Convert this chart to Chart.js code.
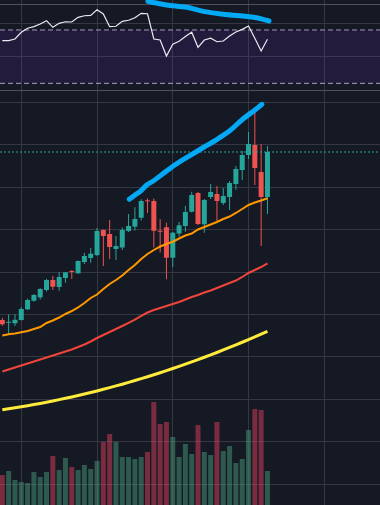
<!DOCTYPE html>
<html>
<head>
<meta charset="utf-8">
<script src="https://cdn.jsdelivr.net/npm/chart.js@4.4.1/dist/chart.umd.min.js"></script>
<style>
  html, body { margin: 0; padding: 0; background: #151924; width: 380px; height: 505px; overflow: hidden; }
  #rsiBox { position: absolute; left: 0; top: 0; width: 380px; height: 90px; }
  #mainBox { position: absolute; left: 0; top: 90px; width: 380px; height: 415px; }
</style>
</head>
<body>
<div id="rsiBox"><canvas id="rsi" width="380" height="90"></canvas></div>
<div id="mainBox"><canvas id="main" width="380" height="415"></canvas></div>
<script>
// ---------------- DATA ----------------
const open  = [48.70, 48.04, 47.93, 48.70, 51.23, 53.25, 54.05, 55.77, 58.13, 56.48, 58.60, 60.18, 59.71, 62.37, 63.31, 64.02, 69.91, 68.97, 65.43, 65.79, 69.67, 70.69, 72.81, 76.79, 76.75, 69.67, 70.55, 63.38, 69.08, 70.85, 74.22, 78.63, 71.25, 77.69, 78.39, 76.27, 77.69, 80.75, 84.05, 87.58, 89.94, 83.58, 77.69];
const high  = [49.25, 50.00, 50.05, 51.77, 53.77, 54.83, 56.17, 58.44, 59.07, 59.94, 60.01, 60.49, 62.72, 64.56, 65.67, 70.38, 70.03, 72.27, 68.50, 70.50, 73.68, 75.26, 77.15, 77.33, 77.33, 72.43, 71.63, 69.44, 71.79, 75.56, 78.93, 78.87, 77.22, 80.75, 80.28, 79.81, 81.46, 84.99, 88.53, 93.00, 97.72, 90.17, 89.70];
const low   = [47.36, 45.41, 47.29, 48.59, 51.06, 53.02, 53.54, 55.42, 55.77, 55.61, 57.49, 58.36, 59.54, 61.90, 62.21, 63.78, 61.43, 63.08, 62.84, 65.20, 69.44, 69.79, 72.15, 73.92, 65.79, 64.61, 58.29, 61.19, 68.33, 69.51, 74.03, 71.09, 69.27, 77.22, 72.03, 75.80, 74.62, 79.41, 81.69, 86.64, 80.51, 66.14, 73.68];
const close = [47.69, 48.23, 48.75, 51.30, 53.42, 54.60, 56.01, 58.13, 56.55, 58.84, 59.94, 60.01, 62.61, 63.78, 64.33, 69.67, 68.50, 65.91, 66.14, 69.91, 70.85, 72.50, 76.75, 76.67, 69.74, 69.51, 63.38, 69.27, 71.02, 74.15, 78.16, 71.32, 76.98, 78.87, 76.75, 77.92, 80.99, 84.28, 87.58, 90.17, 84.52, 77.69, 88.29];
const volume = [30, 34, 25, 23, 22, 33, 28, 33, 49, 35, 47, 38, 35, 40, 36, 44, 63, 71, 63, 48, 48, 46, 48, 53, 103, 81, 83, 68, 48, 61, 51, 80, 53, 50, 83, 54, 59, 42, 46, 75, 96, 95, 34];

const maFast = [45.05, 45.33, 45.52, 45.80, 46.11, 46.58, 47.05, 48.00, 48.59, 49.29, 50.12, 50.82, 51.65, 52.71, 53.89, 54.71, 56.01, 57.19, 58.13, 59.19, 60.49, 61.66, 63.08, 64.26, 65.20, 66.02, 66.61, 67.15, 67.91, 68.61, 69.09, 70.03, 70.62, 71.21, 71.80, 72.50, 73.09, 73.92, 74.86, 75.80, 76.39, 76.86, 77.38];
const maMid  = [36.57, 37.04, 37.51, 37.98, 38.45, 38.92, 39.40, 39.87, 40.34, 40.81, 41.28, 41.75, 42.34, 42.93, 43.64, 44.46, 45.17, 45.88, 46.58, 47.29, 48.00, 48.82, 49.65, 50.47, 51.06, 51.53, 52.00, 52.47, 52.95, 53.53, 54.12, 54.59, 55.18, 55.65, 56.24, 56.83, 57.42, 58.01, 58.84, 59.78, 60.49, 61.19, 62.02];
const maSlow = [27.57, 27.79, 28.02, 28.26, 28.51, 28.78, 29.05, 29.33, 29.63, 29.94, 30.25, 30.58, 30.91, 31.26, 31.62, 31.99, 32.37, 32.77, 33.17, 33.58, 34.00, 34.44, 34.88, 35.34, 35.80, 36.28, 36.77, 37.27, 37.77, 38.30, 38.83, 39.36, 39.92, 40.48, 41.05, 41.64, 42.24, 42.84, 43.46, 44.09, 44.72, 45.38, 46.03];

const rsi = [62.0, 62.1, 63.25, 68.3, 71.3, 72.5, 74.5, 77.0, 72.0, 75.0, 76.2, 76.0, 79.5, 80.7, 81.0, 85.2, 82.0, 72.5, 72.8, 76.5, 77.3, 79.2, 82.5, 82.2, 63.25, 62.5, 50.5, 59.3, 61.5, 65.1, 68.3, 57.0, 62.5, 63.8, 61.2, 61.75, 65.5, 68.5, 70.5, 73.0, 63.8, 54.25, 63.0];
const rsiUpper = 70;
const rsiLower = 30;

// hand-drawn brush strokes (bar index, value)
const brushMainX = [20.11, 21.02, 21.81, 22.87, 23.91, 25.50, 27.08, 28.14, 29.73, 31.84, 33.96, 36.07, 38.12, 40.02, 41.13];
const brushMainY = [77.14, 78.16, 78.93, 80.51, 81.46, 83.22, 84.99, 86.05, 87.46, 89.35, 91.23, 93.36, 96.07, 98.19, 99.53];
const brushRsiX = [23.07, 24.18, 26.04, 29.21, 31.84, 35.00, 37.65, 39.76, 41.34, 42.24];
const brushRsiY = [91.6, 90.4, 88.75, 87.0, 84.0, 81.75, 80.7, 79.5, 78.0, 76.75];

// grid / tick positions
const timeGrid = [3, 15, 27, 39, 51];
const priceGrid = [10, 20, 30, 40, 50, 60, 70, 80, 90, 100];
const rsiGrid = [50, 75];

// ---------------- STYLE / LAYOUT ----------------
const X_MIN = -0.37, X_MAX = 59.83;
const P_MIN = 5.11, P_MAX = 102.9;
const VOL_MAX = 415;
const RSI_MIN = 25, RSI_MAX = 92.5;
const GRID = '#353843';
const SEP = '#4e515b';
const UP = '#26a69a', DOWN = '#ef5350';
const UP_VOL = 'rgba(70,154,119,0.5)', DOWN_VOL = 'rgba(222,62,91,0.5)';

const idx = close.map((_, i) => i);
const isUp = idx.map(i => close[i] >= open[i]);
const last = close[close.length - 1];

function sepPlugin(ys) {
  return {
    id: 'sep',
    beforeDatasetsDraw(chart) {
      const ctx = chart.ctx;
      ctx.save();
      ctx.strokeStyle = SEP;
      ctx.lineWidth = 1;
      ys.forEach(y => { ctx.beginPath(); ctx.moveTo(0, y + 0.5); ctx.lineTo(chart.width, y + 0.5); ctx.stroke(); });
      ctx.restore();
    }
  };
}

const hiddenAxis = (min, max, grid) => ({
  type: 'linear', min, max, offset: false,
  grid: { color: GRID, lineWidth: 1, drawTicks: false, offset: false },
  border: { display: false },
  ticks: { display: false },
  afterBuildTicks: s => { s.ticks = grid.map(v => ({ value: v })); }
});

const commonOpts = {
  responsive: false,
  animation: false,
  devicePixelRatio: 1,
  layout: { padding: 0, autoPadding: false },
  plugins: { legend: { display: false }, tooltip: { enabled: false } },
  events: []
};

// ---------------- MAIN PANE ----------------
new Chart(document.getElementById('main'), {
  type: 'bar',
  data: {
    datasets: [
      { type: 'bar', label: 'Volume', yAxisID: 'yVol', order: 10, grouped: false,
        data: idx.map(i => ({ x: i, y: volume[i] })),
        backgroundColor: idx.map(i => isUp[i] ? UP_VOL : DOWN_VOL),
        barThickness: 5, borderWidth: 0, inflateAmount: 0 },
      { type: 'line', label: 'MA slow', yAxisID: 'y', order: 7,
        data: idx.map(i => ({ x: i, y: maSlow[i] })),
        borderColor: '#ffeb3b', borderWidth: 3, pointRadius: 0, tension: 0 },
      { type: 'line', label: 'MA mid', yAxisID: 'y', order: 6,
        data: idx.map(i => ({ x: i, y: maMid[i] })),
        borderColor: '#f0453a', borderWidth: 2, pointRadius: 0, tension: 0 },
      { type: 'bar', label: 'Wick', yAxisID: 'y', order: 5, grouped: false,
        data: idx.map(i => ({ x: i, y: [low[i], high[i]] })),
        backgroundColor: idx.map(i => isUp[i] ? UP : DOWN),
        barThickness: 1, borderWidth: 0, inflateAmount: 0 },
      { type: 'bar', label: 'Body', yAxisID: 'y', order: 4, grouped: false,
        data: idx.map(i => ({ x: i, y: [open[i], close[i]] })),
        backgroundColor: idx.map(i => isUp[i] ? UP : DOWN),
        barThickness: 5, minBarLength: 1, borderWidth: 0, inflateAmount: 0 },
      { type: 'line', label: 'MA fast', yAxisID: 'y', order: 3,
        data: idx.map(i => ({ x: i, y: maFast[i] })),
        borderColor: '#ff9800', borderWidth: 2, pointRadius: 0, tension: 0 },
      { type: 'line', label: 'Last price', yAxisID: 'y', order: 2,
        data: [{ x: X_MIN, y: last }, { x: X_MAX, y: last }],
        borderColor: UP, borderWidth: 1, borderDash: [2, 2], pointRadius: 0 },
      { type: 'line', label: 'Brush', yAxisID: 'y', order: 1,
        data: brushMainX.map((x, i) => ({ x, y: brushMainY[i] })),
        borderColor: '#03a9f4', borderWidth: 5, borderCapStyle: 'round', borderJoinStyle: 'round',
        pointRadius: 0, tension: 0.3 }
    ]
  },
  options: Object.assign({}, commonOpts, {
    scales: {
      x: hiddenAxis(X_MIN, X_MAX, timeGrid),
      y: hiddenAxis(P_MIN, P_MAX, priceGrid),
      yVol: { type: 'linear', min: 0, max: VOL_MAX, display: false }
    }
  }),
  plugins: [sepPlugin([0])]
});

// ---------------- RSI PANE ----------------
new Chart(document.getElementById('rsi'), {
  type: 'line',
  data: {
    datasets: [
      { label: 'Upper', order: 5, data: [{ x: X_MIN, y: rsiUpper }, { x: X_MAX, y: rsiUpper }],
        borderColor: '#a9a6bd', borderWidth: 1, borderDash: [5, 3], pointRadius: 0, fill: false },
      { label: 'Lower', order: 4, data: [{ x: X_MIN, y: rsiLower }, { x: X_MAX, y: rsiLower }],
        borderColor: '#a9a6bd', borderWidth: 1, borderDash: [5, 3], pointRadius: 0,
        fill: '-1', backgroundColor: 'rgba(120,40,200,0.15)' },
      { label: 'RSI', order: 2, data: idx.map(i => ({ x: i, y: rsi[i] })),
        borderColor: '#ebeaf2', borderWidth: 1.2, pointRadius: 0, tension: 0, fill: false },
      { label: 'Brush', order: 1, data: brushRsiX.map((x, i) => ({ x, y: brushRsiY[i] })),
        borderColor: '#03a9f4', borderWidth: 5, borderCapStyle: 'round', borderJoinStyle: 'round',
        pointRadius: 0, tension: 0.3, fill: false }
    ]
  },
  options: Object.assign({}, commonOpts, {
    scales: {
      x: hiddenAxis(X_MIN, X_MAX, timeGrid),
      y: hiddenAxis(RSI_MIN, RSI_MAX, rsiGrid)
    }
  }),
  plugins: [sepPlugin([4])]
});
</script>
</body>
</html>
